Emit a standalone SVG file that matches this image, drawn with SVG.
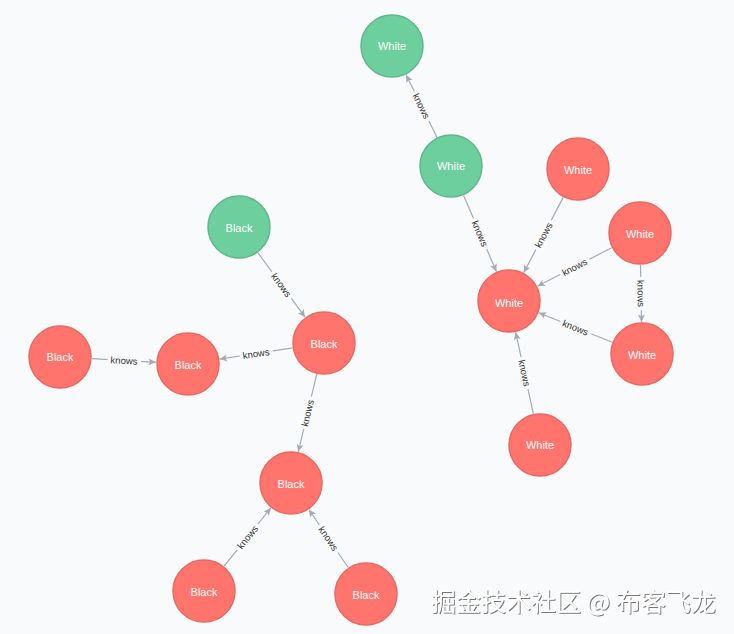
<svg xmlns="http://www.w3.org/2000/svg" width="734" height="634" viewBox="0 0 734 634">
<style>
.edge{stroke:#A5ABB6;stroke-width:1.2;fill:none;marker-end:url(#arr)}
.lbl{font-family:"Liberation Sans",Arial,sans-serif;font-size:9.5px;fill:#333333;text-anchor:middle;dominant-baseline:central;stroke:#F9FAFB;stroke-width:7;paint-order:stroke}
.red circle{fill:#FF756E;stroke:#E86A62;stroke-width:1.5}
.green circle{fill:#6DCE9E;stroke:#5FB88A;stroke-width:1.5}
.node text{font-family:"Liberation Sans",Arial,sans-serif;font-size:11px;fill:#FFFFFF;text-anchor:middle;dominant-baseline:central}
.wm{font-family:"Noto Sans CJK SC","Liberation Sans",sans-serif;font-size:25px;fill:#FFFFFF;filter:url(#sh)}
</style>
<defs>
<marker id="arr" viewBox="-8 -4 9 8" refX="0" refY="0" markerWidth="9" markerHeight="8" markerUnits="userSpaceOnUse" orient="auto">
<path d="M0,0 L-7.5,-3.5 L-5.8,0 L-7.5,3.5 Z" fill="#A5ABB6"/>
</marker>
<filter id="sh" x="-5%" y="-30%" width="110%" height="160%">
<feDropShadow dx="1" dy="1" stdDeviation="0.6" flood-color="#6b6b6b" flood-opacity="0.9"/>
</filter>
</defs>
<rect width="734" height="634" fill="#F9FAFB"/>
<g id="connectors">
<line class="edge" x1="436.9" y1="137.3" x2="406.1" y2="74.7"/>
<text class="lbl" transform="translate(421.5,106) rotate(63.8)">knows</text>
<line class="edge" x1="463.6" y1="195.4" x2="496.4" y2="271.6"/>
<text class="lbl" transform="translate(480,233.5) rotate(66.75)">knows</text>
<line class="edge" x1="563.2" y1="197.4" x2="523.8" y2="272.6"/>
<text class="lbl" transform="translate(543.5,235) rotate(-62.4)">knows</text>
<line class="edge" x1="611.6" y1="247.7" x2="537.4" y2="286.3"/>
<text class="lbl" transform="translate(574.5,267) rotate(-27.4)">knows</text>
<line class="edge" x1="640.5" y1="265" x2="641.5" y2="322"/>
<text class="lbl" transform="translate(641,293.5) rotate(89)">knows</text>
<line class="edge" x1="612.3" y1="342.2" x2="538.7" y2="312.8"/>
<text class="lbl" transform="translate(575.5,327.5) rotate(21.7)">knows</text>
<line class="edge" x1="533.3" y1="413.7" x2="515.7" y2="332.3"/>
<text class="lbl" transform="translate(524.5,373) rotate(77.9)">knows</text>
<line class="edge" x1="257.9" y1="252.8" x2="305.1" y2="317.2"/>
<text class="lbl" transform="translate(281.5,285) rotate(53.8)">knows</text>
<line class="edge" x1="292.4" y1="347.9" x2="219.6" y2="359.1"/>
<text class="lbl" transform="translate(256,353.5) rotate(-8.8)">knows</text>
<line class="edge" x1="92" y1="358.7" x2="156" y2="362.3"/>
<text class="lbl" transform="translate(124,360.5) rotate(3.1)">knows</text>
<line class="edge" x1="316.7" y1="374.2" x2="298.3" y2="451.8"/>
<text class="lbl" transform="translate(307.5,413) rotate(-76.7)">knows</text>
<line class="edge" x1="224.1" y1="566.1" x2="270.9" y2="507.9"/>
<text class="lbl" transform="translate(247.5,537) rotate(-51.1)">knows</text>
<line class="edge" x1="348.1" y1="567.5" x2="308.9" y2="509.5"/>
<text class="lbl" transform="translate(328.5,538.5) rotate(56)">knows</text>
</g>
<g id="nA" class="node green"><circle cx="392" cy="46" r="31"/><text x="392" y="46">White</text></g>
<g id="nB" class="node green"><circle cx="451" cy="166" r="31"/><text x="451" y="166">White</text></g>
<g id="nC" class="node green"><circle cx="239" cy="227" r="31"/><text x="239" y="228">Black</text></g>
<g id="nD" class="node red"><circle cx="324" cy="343" r="31"/><text x="324" y="344">Black</text></g>
<g id="nE" class="node red"><circle cx="188" cy="364" r="31"/><text x="188" y="365">Black</text></g>
<g id="nF" class="node red"><circle cx="60" cy="357" r="31"/><text x="60" y="357">Black</text></g>
<g id="nG" class="node red"><circle cx="291" cy="483" r="31"/><text x="291" y="484">Black</text></g>
<g id="nH" class="node red"><circle cx="204" cy="591" r="31"/><text x="204" y="592">Black</text></g>
<g id="nI" class="node red"><circle cx="366" cy="594" r="31"/><text x="366" y="595">Black</text></g>
<g id="nJ" class="node red"><circle cx="509" cy="301" r="31"/><text x="509" y="303">White</text></g>
<g id="nK" class="node red"><circle cx="578" cy="169" r="31"/><text x="578" y="170">White</text></g>
<g id="nL" class="node red"><circle cx="640" cy="233" r="31"/><text x="640" y="234">White</text></g>
<g id="nM" class="node red"><circle cx="642" cy="354" r="31"/><text x="642" y="355">White</text></g>
<g id="nN" class="node red"><circle cx="540" cy="445" r="31"/><text x="540" y="445">White</text></g>
<text class="wm" x="431" y="611">掘金技术社区 @ 布客飞龙</text>
</svg>
